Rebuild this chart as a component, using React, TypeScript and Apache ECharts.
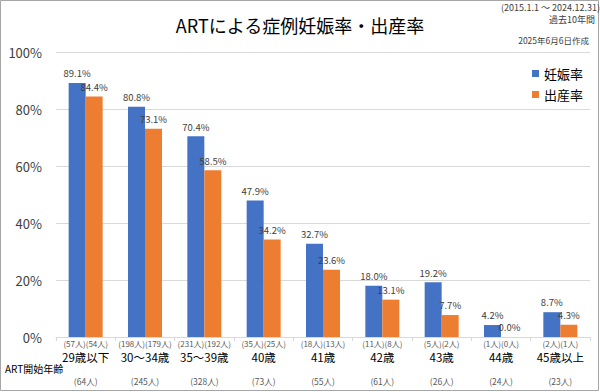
import React, { useEffect, useRef } from "react";
import * as echarts from "echarts";

const categories = ["29歳以下", "30～34歳", "35～39歳", "40歳", "41歳", "42歳", "43歳", "44歳", "45歳以上"];
const pregnancyRate = [89.1, 80.8, 70.4, 47.9, 32.7, 18.0, 19.2, 4.2, 8.7];
const birthRate = [84.4, 73.1, 58.5, 34.2, 23.6, 13.1, 7.7, 0.0, 4.3];
const pregnancyCount = [57, 198, 231, 35, 18, 11, 5, 1, 2];
const birthCount = [54, 179, 192, 25, 13, 8, 2, 0, 1];
const totalCount = [64, 245, 328, 73, 55, 61, 26, 24, 23];
const yTicks = [0, 20, 40, 60, 80, 100];

const FONT = '"Noto Sans CJK JP", "Noto Sans", sans-serif';

export default function App() {
  const ref = useRef<HTMLDivElement>(null);
  useEffect(() => {
    if (!ref.current) return;
    const chart = echarts.init(ref.current, undefined, { renderer: "svg" });
    const labelStyle = {
      show: true,
      position: "top" as const,
      distance: 5,
      fontSize: 9.5,
      color: "#404040",
      fontFamily: FONT,
      formatter: (p: any) => Number(p.value).toFixed(1) + "%",
    };
    chart.setOption({
      animation: false,
      textStyle: { fontFamily: FONT },
      title: {
        text: "ARTによる症例妊娠率・出産率",
        left: "center",
        top: 11,
        textStyle: { fontSize: 18, fontWeight: "normal", color: "#000", fontFamily: FONT },
      },
      legend: {
        data: ["妊娠率", "出産率"],
        orient: "vertical",
        left: 527,
        top: 62,
        itemWidth: 7,
        itemHeight: 7,
        itemGap: 8,
        icon: "rect",
        textStyle: { fontSize: 13, color: "#000", fontFamily: FONT },
      },
      grid: { left: 56, right: 10, top: 52, bottom: 55, containLabel: false },
      xAxis: {
        type: "category",
        data: categories,
        axisLine: { lineStyle: { color: "#d9d9d9" } },
        axisTick: { show: true, length: 4, lineStyle: { color: "#d9d9d9" } },
        axisLabel: {
          interval: 0,
          margin: 0,
          formatter: (value: string, i: number) =>
            `{c|(${pregnancyCount[i]}人)(${birthCount[i]}人)}\n{n|${value}}\n{t|(${totalCount[i]}人)}`,
          rich: {
            c: { fontSize: 8, lineHeight: 12, color: "#595959", fontFamily: FONT },
            n: { fontSize: 11.5, lineHeight: 16, color: "#000", fontFamily: FONT },
            t: { fontSize: 8.5, lineHeight: 32, color: "#595959", fontFamily: FONT },
          },
        },
      },
      yAxis: {
        type: "value",
        min: yTicks[0],
        max: yTicks[yTicks.length - 1],
        interval: 20,
        axisLine: { show: false },
        axisTick: { show: false },
        splitLine: { lineStyle: { color: "#d9d9d9" } },
        axisLabel: { formatter: "{value}%", fontSize: 13, color: "#404040", margin: 14, fontFamily: FONT },
      },
      series: [
        {
          name: "妊娠率",
          type: "bar",
          data: pregnancyRate,
          barWidth: 17,
          barGap: "0%",
          itemStyle: { color: "#4472C4" },
          label: labelStyle,
        },
        {
          name: "出産率",
          type: "bar",
          data: birthRate,
          barWidth: 17,
          barGap: "0%",
          itemStyle: { color: "#ED7D31" },
          label: labelStyle,
        },
      ],
      graphic: [
        {
          type: "rect",
          shape: { x: 0.5, y: 0.5, width: 598, height: 390 },
          style: { fill: "none", stroke: "#a6a6a6", lineWidth: 1 },
          silent: true,
        },
        {
          type: "text",
          x: 600,
          y: 7,
          style: { text: "(2015.1.1 ～ 2024.12.31)", align: "right", verticalAlign: "middle", fontSize: 9, fill: "#404040", fontFamily: FONT },
        },
        {
          type: "text",
          x: 595,
          y: 19.5,
          style: { text: "過去10年間", align: "right", verticalAlign: "middle", fontSize: 9, fill: "#404040", fontFamily: FONT },
        },
        {
          type: "text",
          x: 589,
          y: 40,
          style: { text: "2025年6月6日作成", align: "right", verticalAlign: "middle", fontSize: 8.5, fill: "#404040", fontFamily: FONT },
        },
        {
          type: "text",
          x: 5,
          y: 368,
          style: { text: "ART開始年齢", align: "left", verticalAlign: "middle", fontSize: 10, fill: "#000", fontFamily: FONT },
        },
      ],
    });
    return () => chart.dispose();
  }, []);
  return (
    <div style={{ position: "absolute", left: 0, top: 0, width: 600, height: 392, background: "#fff" }}>
      <div ref={ref} style={{ width: 600, height: 392 }} />
    </div>
  );
}
